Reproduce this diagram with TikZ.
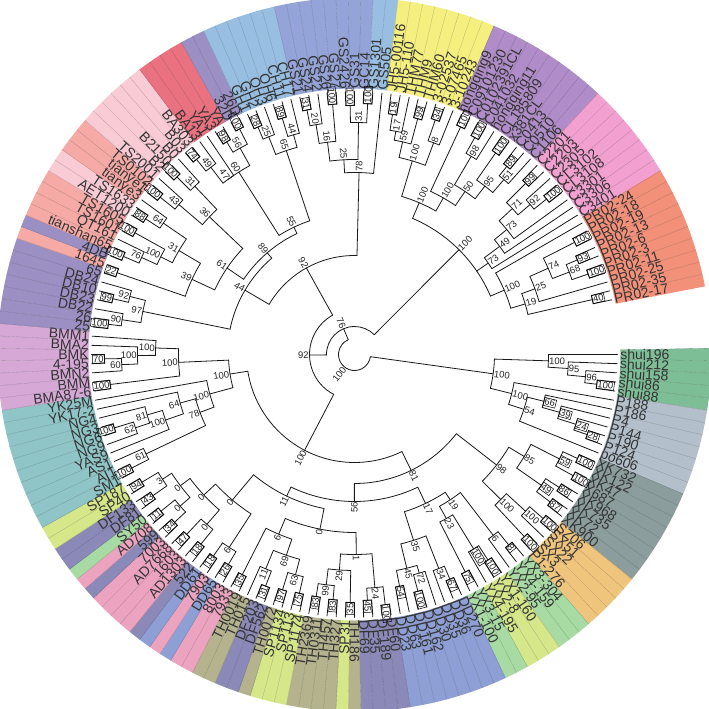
\documentclass[tikz,border=0pt]{standalone}
\usepackage{fontspec}
\setmainfont{Liberation Sans}

\definecolor{gS}{HTML}{7DBE97}
\definecolor{gP}{HTML}{B3BFCA}
\definecolor{gX}{HTML}{8B9D9C}
\definecolor{gO}{HTML}{EFC47D}
\definecolor{gG}{HTML}{A8DBA4}
\definecolor{gY}{HTML}{D6E78A}
\definecolor{gB}{HTML}{8E9FD5}
\definecolor{gD}{HTML}{8A89B8}
\definecolor{gT}{HTML}{B4B38E}
\definecolor{gK}{HTML}{EBA3BF}
\definecolor{gTe}{HTML}{8FC5C6}
\definecolor{gM}{HTML}{D5A8D5}
\definecolor{gV}{HTML}{9C8FC4}
\definecolor{gSa}{HTML}{F5AAA6}
\definecolor{gLp}{HTML}{F8CBD5}
\definecolor{gR}{HTML}{EA717F}
\definecolor{gLB}{HTML}{98BEE2}
\definecolor{gPB}{HTML}{95A4D8}
\definecolor{gYe}{HTML}{F4EF7E}
\definecolor{gPu}{HTML}{B08CC8}
\definecolor{gHp}{HTML}{F2A0D0}
\definecolor{gC}{HTML}{F3907A}

% one clade: name, radius, children, bootstrap, label style
\newcommand\clade[5]{%
  \gdef\cfirst{}%
  \foreach \c in {#3}{\ifx\cfirst\empty\xdef\cfirst{\c}\fi\xdef\clast{\c}}%
  \edef\ca{\csname ang@\cfirst\endcsname}%
  \edef\cb{\csname ang@\clast\endcsname}%
  \pgfmathsetmacro\cm{(\ca+\cb)/2}%
  \expandafter\xdef\csname ang@#1\endcsname{\cm}%
  \expandafter\xdef\csname rad@#1\endcsname{#2}%
  \draw[branch] (\ca:#2pt) arc[start angle=\ca, end angle=\cb, radius=#2pt];
  \foreach \c in {#3}{%
    \edef\ta{\csname ang@\c\endcsname}\edef\tr{\csname rad@\c\endcsname}%
    \draw[branch] (\ta:#2pt) -- (\ta:\tr pt);}%
  \pgfmathtruncatemacro\rt{cos(\cm)>=0}%
  \ifnum\rt=1 \node[#5, anchor=west, rotate=\cm] at (\cm:#2pt) {#4};
  \else \node[#5, anchor=east, rotate=\cm+180] at (\cm:#2pt) {#4};\fi
}

\def\leaves{1/shui196/gS, 2/shui212/gS, 3/shui158/gS, 4/shui86/gS, 5/shui88/gS,
 6/P188/gP, 7/P186/gP, 8/P4/gP, 9/P144/gP, 10/P190/gP, 11/P124/gP, 12/po606/gP,
 13/XK732/gX, 14/XK122/gX, 15/XK47/gX, 16/X687/gX, 17/XK968/gX, 18/XK735/gX, 19/XK72/gX, 20/XK900/gX,
 21/SZ06/gO, 22/SX51/gO, 23/SX22/gO, 24/SX3/gO, 25/P1-276/gO,
 26/YX3-304/gG, 27/YX4-159/gG, 28/YX2-95/gG, 29/YX1-160/gY, 30/YX2-8/gY, 31/YX4-195/gY, 32/YX3-15/gG, 33/YX1-100/gG,
 34/DD270/gB, 35/DD36/gB, 36/DD35/gB, 37/DD30/gB, 38/DD162/gB, 39/DD161/gB, 40/DD63/gB, 41/DD23/gB,
 42/DF60/gD, 43/DF189/gD, 44/DF35/gD, 45/DF69/gD,
 46/TH186/gT, 47/SP31/gY, 48/TH327/gT, 49/TH457/gT, 50/TH0311/gT, 51/TH2369/gT,
 52/SP1174/gY, 53/SP113/gY, 54/SP1134/gY, 55/TH0072/gT, 56/DF562/gD, 57/DF203/gD, 58/TH015/gT, 59/TH0019/gT,
 60/7933/gK, 61/8003/gK, 62/DD65/gB, 63/7903/gK, 64/DD61/gB, 65/522/gD, 66/AD1303/gK, 67/1603/gK,
 68/AD7668/gK, 69/7003/gK, 70/599/gD, 71/AD708/gK, 72/SY50/gG, 73/DF81/gD, 74/DF133/gD, 75/SP40/gY, 76/SP187/gY,
 77/SM1/gTe, 78/AI1/gTe, 79/AS1/gTe, 80/YAS9/gTe, 81/NG9/gTe, 82/NG6/gTe, 83/NG3/gTe, 84/NG4/gTe, 85/YK17-2/gTe, 86/YK25M/gTe,
 87/BMA87-6/gM, 88/BMM/gM, 89/BMN2/gM, 90/4-195/gM, 91/BMK/gM, 92/BMA2/gM, 93/BMM1/gM,
 94/25/gV, 95/26/gV, 96/DB22/gV, 97/DB23/gV, 98/DB10/gV, 99/DB24/gV, 100/65/gV,
 101/1645/gSa, 102/4DB/gV, 103/tianshan65/gSa, 104/QT161/gSa, 105/TS1601/gSa, 106/TS1605/gSa,
 107/AET1200/gLp, 108/TS1633/gLp, 109/tianye3/gSa, 110/tianye1/gSa, 111/TS0102/gSa, 112/TS2001/gLp,
 113/B2/gLp, 114/B2150/gLp, 115/B0/gLp, 116/B03/gLp, 117/BA303/gLp, 118/BA13/gR, 119/YA1/gR, 120/YA3/gR, 121/YA/gR,
 122/32D/gV, 123/26D/gV,
 124/GH1/gLB, 125/GH2/gLB, 126/OH3/gLB, 127/OH6/gLB, 128/CH11/gLB, 129/CH17/gLB,
 130/GS21/gPB, 131/GS24/gPB, 132/GS22/gPB, 133/GS26/gPB, 134/GS27/gPB, 135/GS2426/gPB, 136/GS31/gPB, 137/GC14/gPB,
 138/GS1301/gLB, 139/GS505/gLB,
 140/JH5-00116/gYe, 141/JH5-110/gYe, 142/THM77/gYe, 143/THM9/gYe, 144/THM60/gYe, 145/3-02537/gYe, 146/3-07465/gYe, 147/3-10243/gYe,
 148/hongqing9/gPu, 149/C09101230/gPu, 150/C0102391CL/gPu, 151/C041032/gPu, 152/hongqing11/gPu,
 153/CL185809/gPu, 154/x381CL/gPu, 155/C0413/gPu, 156/C0510/gPu, 157/C1106/gPu,
 158/C2201/gHp, 159/C2203/gHp, 160/C2305/gHp, 161/CL3102/gHp, 162/CL3108/gHp, 163/C3301/gHp, 164/C3306/gHp, 165/C3401/gHp,
 166/PR02-24/gC, 167/PR02-18/gC, 168/PR02-19/gC, 169/PR02-13/gC, 170/PR02-6/gC,
 171/PR02-3/gC, 172/PR02-11/gC, 173/PR02-25/gC, 174/PR02-35/gC, 175/PR02-17/gC}

\begin{document}
\begin{tikzpicture}[x=1pt,y=1pt]
  \tikzstyle{branch}=[line width=.8pt, black!90, line cap=round]
  \tikzstyle{lbl}=[font=\fontsize{14}{14}\selectfont, text=black!80, inner sep=.6pt]
  \tikzstyle{boot}=[font=\fontsize{9.5}{9.5}\selectfont, text=black!85, inner sep=.7pt]
  \tikzstyle{bb}=[boot, draw, line width=.5pt]
  \tikzstyle{bn}=[boot]

  \useasboundingbox (-354.5,-354.5) rectangle (354.5,354.5);
  \clip (-354.5,-354.5) rectangle (354.5,354.5);
  \fill[white] (-354.5,-354.5) rectangle (354.5,354.5);

  \foreach \i/\t/\c in \leaves {
    \pgfmathsetmacro\a{-2*(\i-1)}
    \pgfmathsetmacro\aa{\a+1}
    \pgfmathsetmacro\ab{\a-1}
    \fill[\c] (\aa:266pt) arc[start angle=\aa, end angle=\ab, radius=266pt]
      -- (\ab:357pt) arc[start angle=\ab, end angle=\aa, radius=357pt] -- cycle;
    \draw[\c!75!black, line width=.3pt] (\aa:266pt) -- (\aa:357pt);
    \expandafter\xdef\csname ang@l\i\endcsname{\a}
    \expandafter\xdef\csname rad@l\i\endcsname{263}
  }
  \foreach \i/\t/\c in \leaves {
    \pgfmathsetmacro\a{-2*(\i-1)}
    \pgfmathtruncatemacro\rt{cos(\a)>=0}
    \ifnum\rt=1 \node[lbl, anchor=west, rotate=\a] at (\a:265pt) {\t};
    \else \node[lbl, anchor=east, rotate=\a+180] at (\a:265pt) {\t};\fi
  }

  \clade{s4}{244}{l4,l5}{100}{bb}
  \clade{s3}{232}{l3,s4}{96}{bn}
  \clade{s2}{214}{l2,s3}{95}{bn}
  \clade{s1}{194}{l1,s2}{100}{bn}
  \clade{p5}{246}{l10,l11}{28}{bb}
  \clade{p4}{232}{l9,p5}{24}{bb}
  \clade{p3}{213}{l8,p4}{39}{bb}
  \clade{p2}{195}{l7,p3}{66}{bb}
  \clade{p1}{178}{p2,l12}{54}{bn}
  \clade{p0}{162}{l6,p1}{100}{bn}
  \clade{sp}{140}{s1,p0}{100}{bn}

  \clade{xa1}{246}{l13,l14}{100}{bb}
  \clade{xa2}{250}{l15,l16}{100}{bb}
  \clade{xa}{230}{xa1,xa2}{59}{bb}
  \clade{xb1}{244}{l17,l18}{86}{bb}
  \clade{xc1}{245}{l19,l20}{87}{bb}
  \clade{xb}{228}{xb1,xc1}{49}{bb}
  \clade{x85}{198}{xa,xb}{85}{bn}
  \clade{o1}{250}{l21,l22}{100}{bb}
  \clade{o2}{232}{o1,l23}{100}{bn}
  \clade{o3}{249}{l24,l25}{100}{bb}
  \clade{o}{206}{o2,o3}{100}{bn}
  \clade{xo}{180}{x85,o}{98}{bn}

  \clade{y1}{245}{l26,l27}{8}{bb}
  \clade{y2}{228}{y1,l28}{6}{bn}
  \clade{y3}{245}{l29,l30}{100}{bb}
  \clade{y4}{228}{y3,l31}{100}{bb}
  \clade{y5}{244}{l32,l33}{75}{bb}
  \clade{y23}{188}{y4,y5}{23}{bn}
  \clade{y19}{174}{y2,y23}{19}{bn}
  \clade{d1}{244}{l34,l35}{67}{bb}
  \clade{d2}{230}{d1,l36}{34}{bn}
  \clade{d3}{245}{l38,l39}{100}{bb}
  \clade{d4}{228}{l37,d3}{72}{bn}
  \clade{d5}{236}{l40,l41}{54}{bb}
  \clade{d6}{220}{d4,d5}{45}{bn}
  \clade{d35}{195}{d2,d6}{35}{bn}
  \clade{y17}{165}{y19,d35}{17}{bn}

  \clade{f1}{252}{l42,l43}{100}{bb}
  \clade{f2}{246}{l44,l45}{45}{bb}
  \clade{f24}{234}{f1,f2}{24}{bn}
  \clade{h35}{248}{l46,l47}{35}{bb}
  \clade{t1}{246}{l48,l49}{83}{bb}
  \clade{t2}{245}{l50,l51}{83}{bb}
  \clade{t99}{232}{t1,t2}{99}{bn}
  \clade{t29}{216}{h35,t99}{29}{bn}
  \clade{fx}{200}{f24,t29}{1}{bn}
  \clade{g1}{245}{l52,l53}{75}{bb}
  \clade{g2}{246}{l54,l55}{97}{bb}
  \clade{g63}{228}{g1,g2}{63}{bn}
  \clade{g3}{248}{l56,l57}{31}{bb}
  \clade{g11}{232}{g3,l58}{11}{bn}
  \clade{g69}{212}{g63,g11}{69}{bn}
  \clade{g4}{247}{l59,l60}{35}{bb}
  \clade{g6}{195}{g69,g4}{6}{bn}
  \clade{z0}{178}{fx,g6}{0}{bn}

  \clade{a1}{245}{l61,l62}{26}{bb}
  \clade{a2}{246}{l63,l64}{18}{bb}
  \clade{a6}{230}{a1,a2}{6}{bn}
  \clade{a3}{244}{l65,l66}{18}{bb}
  \clade{a4}{246}{l67,l68}{47}{bb}
  \clade{a0a}{225}{a3,a4}{0}{bn}
  \clade{a5}{246}{l69,l70}{34}{bb}
  \clade{a7}{249}{l71,l72}{11}{bb}
  \clade{a0c}{231}{a5,a7}{0}{bn}
  \clade{a8}{246}{l73,l74}{43}{bb}
  \clade{te1}{248}{l75,l76}{94}{bb}
  \clade{a3x}{229}{a8,te1}{3}{bn}
  \clade{a0f}{218}{a0c,a3x}{0}{bn}
  \clade{a0b}{206}{a0a,a0f}{0}{bn}
  \clade{a0d}{190}{a6,a0b}{0}{bn}
  \clade{a11}{157}{z0,a0d}{11}{bn}
  \clade{n56}{147}{y17,a11}{56}{bn}
  \clade{n81}{129}{xo,n56}{81}{bn}

  \clade{te2}{250}{l77,l78}{100}{bb}
  \clade{te61}{231}{te2,l79}{61}{bn}
  \clade{te4}{251}{l82,l83}{100}{bb}
  \clade{te62}{231}{l81,te4}{62}{bn}
  \clade{te81}{216}{te62,l84}{81}{bn}
  \clade{te100}{200}{l80,te81}{100}{bn}
  \clade{te64}{181}{te100,l85}{64}{bn}
  \clade{te78}{165}{te61,te64}{78}{bn}
  \clade{te153}{150}{te78,l86}{100}{bn}
  \clade{m1}{246}{l87,l88}{100}{bb}
  \clade{m70}{250}{l90,l91}{70}{bb}
  \clade{m60}{233}{l89,m70}{60}{bn}
  \clade{m100a}{217}{m60,l92}{100}{bn}
  \clade{m100b}{199}{m100a,l93}{100}{bn}
  \clade{mm}{176}{m1,m100b}{100}{bn}
  \clade{tm}{126}{te153,mm}{100}{bn}
  \clade{n100}{108}{n81,tm}{100}{bn}

  \clade{db1}{248}{l94,l95}{100}{bb}
  \clade{db90}{235}{db1,l96}{90}{bn}
  \clade{db2}{248}{l97,l98}{99}{bb}
  \clade{db92}{232}{db2,l99}{92}{bn}
  \clade{db97}{216}{db90,db92}{97}{bn}
  \clade{db22}{251}{l100,l101}{22}{bb}
  \clade{b1}{251}{l102,l103}{100}{bb}
  \clade{b76}{234}{b1,l104}{76}{bn}
  \clade{b2}{251}{l105,l106}{100}{bb}
  \clade{b100}{217}{b76,b2}{100}{bn}
  \clade{b3}{249}{l107,l108}{88}{bb}
  \clade{b64}{232}{b3,l109}{64}{bn}
  \clade{b31}{204}{b100,b64}{31}{bn}
  \clade{b39}{179}{db22,b31}{39}{bn}
  \clade{c1}{250}{l110,l111}{100}{bb}
  \clade{c43}{231}{c1,l112}{43}{bn}
  \clade{c2}{251}{l113,l114}{100}{bb}
  \clade{c31}{232}{c2,l115}{31}{bn}
  \clade{c36}{200}{c43,c31}{36}{bn}
  \clade{t61}{154}{b39,c36}{61}{bn}
  \clade{c3}{251}{l116,l117}{74}{bb}
  \clade{c49}{236}{c3,l118}{49}{bn}
  \clade{c47}{216}{c49,l119}{47}{bn}
  \clade{c5}{248}{l120,l121}{98}{bb}
  \clade{u1}{253}{l122,l123}{100}{bb}
  \clade{u56}{236}{c5,u1}{56}{bn}
  \clade{u60}{216}{c47,u56}{60}{bn}
  \clade{u2}{247}{l124,l125}{28}{bb}
  \clade{u25}{234}{u2,l126}{25}{bn}
  \clade{u3}{247}{l127,l128}{89}{bb}
  \clade{u44}{228}{u3,l129}{44}{bn}
  \clade{u65}{215}{u25,u44}{65}{bn}
  \clade{u55}{141}{u60,u65}{55}{bn}
  \clade{t89}{134}{t61,u55}{89}{bn}
  \clade{b44}{127}{db97,t89}{44}{bn}
  \clade{u4}{249}{l130,l131}{31}{bb}
  \clade{u20}{233}{u4,l132}{20}{bn}
  \clade{u6}{251}{l133,l134}{100}{bb}
  \clade{u16}{214}{u20,u6}{16}{bn}
  \clade{u7}{249}{l135,l136}{100}{bb}
  \clade{u8}{251}{l137,l138}{100}{bb}
  \clade{u31}{232}{u7,u8}{31}{bn}
  \clade{u25b}{195}{u16,u31}{25}{bn}
  \clade{u78}{182}{u25b,l139}{78}{bn}
  \clade{n92b}{99}{b44,u78}{92}{bn}

  \clade{w1}{243}{l140,l141}{19}{bb}
  \clade{w17}{227}{w1,l142}{17}{bn}
  \clade{w1b}{244}{l143,l144}{99}{bb}
  \clade{w59}{218}{w17,w1b}{59}{bn}
  \clade{w2}{248}{l145,l146}{34}{bb}
  \clade{w8}{226}{w2,l147}{8}{bn}
  \clade{w100}{202}{w59,w8}{100}{bn}
  \clade{v1}{251}{l148,l149}{100}{bb}
  \clade{v2}{248}{l150,l151}{100}{bb}
  \clade{v98}{230}{v2,l152}{98}{bn}
  \clade{v3}{246}{l153,l154}{100}{bb}
  \clade{v4}{242}{l155,l156}{89}{bb}
  \clade{v51}{230}{v4,l157}{51}{bn}
  \clade{v95}{213}{v3,v51}{95}{bn}
  \clade{v50}{197}{v98,v95}{50}{bn}
  \clade{v100b}{180}{v1,v50}{100}{bn}
  \clade{v100a}{165}{w100,v100b}{100}{bn}
  \clade{k1}{242}{l158,l159}{99}{bb}
  \clade{k2}{247}{l161,l162}{100}{bb}
  \clade{k92}{231}{l160,k2}{92}{bn}
  \clade{k71}{215}{k1,k92}{71}{bn}
  \clade{k73a}{197}{k71,l163}{73}{bn}
  \clade{k49}{181}{k73a,l164}{49}{bn}
  \clade{k73}{162}{k49,l165}{73}{bn}
  \clade{r1}{247}{l167,l168}{100}{bb}
  \clade{r2}{242}{l169,l170}{93}{bb}
  \clade{r3}{247}{l171,l172}{100}{bb}
  \clade{r68}{230}{r2,r3}{68}{bn}
  \clade{r74}{212}{r1,r68}{74}{bn}
  \clade{r4}{244}{l174,l175}{40}{bb}
  \clade{r25}{192}{r74,l173}{25}{bn}
  \clade{r19}{178}{r25,r4}{19}{bn}
  \clade{r100}{163}{l166,r19}{100}{bn}
  \clade{p100}{148}{v100a,k73,r100}{100}{bn}

  \clade{x92}{45}{n100,n92b}{92}{bn}
  \clade{n76}{28}{x92,p100}{76}{bn}
  \clade{root}{16}{sp,n76}{100}{bn}
\end{tikzpicture}
\end{document}
